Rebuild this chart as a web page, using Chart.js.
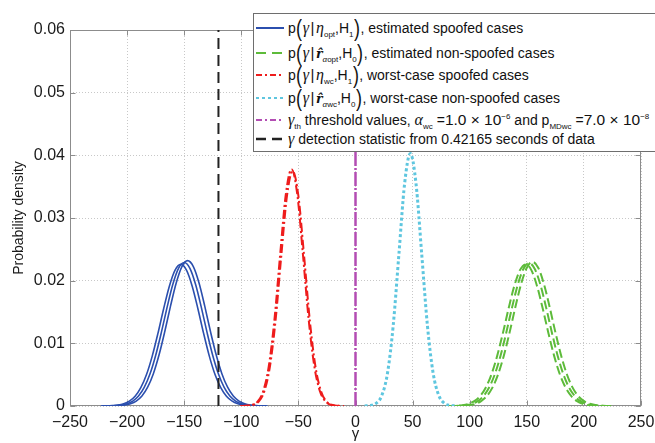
<!DOCTYPE html>
<html><head><meta charset="utf-8">
<script src="https://cdn.jsdelivr.net/npm/chart.js@4.4.0/dist/chart.umd.min.js"></script>
<style>
html,body{margin:0;padding:0;background:#fff;overflow:hidden;}
#wrap{position:relative;width:655px;height:443px;overflow:hidden;}
#c{position:absolute;left:0;top:0;}
#legend{position:absolute;left:253px;top:13px;width:430px;height:137px;border:1px solid #6e6e6e;background:#fff;font-family:"Liberation Sans",Arial,sans-serif;font-size:14px;color:#111;}
.row{position:absolute;left:0;height:22px;display:flex;align-items:center;white-space:nowrap;padding-left:1px;}
.row svg{margin-right:4px;flex:none;}
.bp{font-size:24px;line-height:14px;display:inline-block;transform:scaleX(0.75);vertical-align:-3px;margin:0 -0.5px;font-weight:300;}
.m{font-family:"Liberation Serif","DejaVu Serif",serif;font-style:italic;font-size:16px;}
.rh{font-family:"DejaVu Serif",serif;font-style:italic;font-weight:bold;font-size:12.5px;}
.bar{font-size:15px;margin:0 1.5px;}
sub{font-size:8px;vertical-align:-4px;line-height:0;}
sup{font-size:8px;vertical-align:6px;line-height:0;}
.num{font-size:15.5px;}
</style></head>
<body>
<div id="wrap">
<canvas id="c" width="655" height="443"></canvas>
<div id="legend">
 <div class="row" style="top:3px"><svg width="29" height="6"><line x1="1" y1="3" x2="29" y2="3" stroke="#2b4fae" stroke-width="2"/></svg><span>p<span class="bp">(</span><i class="m">γ</i><span class="bar">|</span><i class="m">η</i><sub>opt</sub>,H<sub>1</sub><span class="bp">)</span>, estimated spoofed cases</span></div>
 <div class="row" style="top:28px"><svg width="29" height="6"><line x1="1" y1="3" x2="29" y2="3" stroke="#5dbb3a" stroke-width="2" stroke-dasharray="10,6"/></svg><span>p<span class="bp">(</span><i class="m">γ</i><span class="bar">|</span><span class="rh">r̂</span><sub><i>α</i>opt</sub>,H<sub>0</sub><span class="bp">)</span>, estimated non-spoofed cases</span></div>
 <div class="row" style="top:50px"><svg width="29" height="6"><line x1="1" y1="3" x2="29" y2="3" stroke="#ee1c1c" stroke-width="2" stroke-dasharray="6,3,2,3"/></svg><span>p<span class="bp">(</span><i class="m">γ</i><span class="bar">|</span><i class="m">η</i><sub>wc</sub>,H<sub>1</sub><span class="bp">)</span>, worst-case spoofed cases</span></div>
 <div class="row" style="top:73px"><svg width="29" height="6"><line x1="1" y1="3" x2="29" y2="3" stroke="#5ec6df" stroke-width="2" stroke-dasharray="3,3"/></svg><span>p<span class="bp">(</span><i class="m">γ</i><span class="bar">|</span><span class="rh">r̂</span><sub><i>α</i>wc</sub>,H<sub>0</sub><span class="bp">)</span>, worst-case non-spoofed cases</span></div>
 <div class="row" style="top:95px"><svg width="29" height="6"><line x1="1" y1="3" x2="29" y2="3" stroke="#b34db3" stroke-width="2" stroke-dasharray="6,3,2,3"/></svg><span><i class="m">γ</i><sub>th</sub> threshold values, <i class="m">α</i><sub>wc</sub> =<span class="num">1.0 × 10</span><sup>−6</sup> and p<sub>MDwc</sub> =<span class="num">7.0 × 10</span><sup>−8</sup></span></div>
 <div class="row" style="top:114px"><svg width="29" height="6"><line x1="1" y1="3" x2="29" y2="3" stroke="#222" stroke-width="2.5" stroke-dasharray="10,6"/></svg><span><i class="m">γ</i> detection statistic from 0.42165 seconds of data</span></div>
</div>
</div>
<script>
// ---- data ----
const xTicks = [-250,-200,-150,-100,-50,0,50,100,150,200,250];
const yTicks = [0,0.01,0.02,0.03,0.04,0.05,0.06];

const blue1X = [-223,-218,-213,-208,-203,-198,-193,-188,-183,-178,-173,-168,-163,-158,-153,-148,-143,-138,-133,-128,-123,-118,-113,-108,-103,-98,-93,-88,-83];
const blue1Y = [.00001,.00002,.00006,.00014,.00035,.00077,.00156,.00292,.00502,.00796,.01158,.01552,.01912,.02168,.02260,.02168,.01912,.01552,.01158,.00796,.00502,.00292,.00156,.00077,.00035,.00014,.00006,.00002,.00001];
const blue2X = [-220,-215,-210,-205,-200,-195,-190,-185,-180,-175,-170,-165,-160,-155,-150,-145,-140,-135,-130,-125,-120,-115,-110,-105,-100,-95,-90,-85,-80];
const blue2Y = [.00001,.00002,.00006,.00015,.00035,.00078,.00158,.00296,.00509,.00806,.01174,.01573,.01938,.02196,.02290,.02196,.01938,.01573,.01174,.00806,.00509,.00296,.00158,.00078,.00035,.00015,.00006,.00002,.00001];
const blue3X = [-217,-212,-207,-202,-197,-192,-187,-182,-177,-172,-167,-162,-157,-152,-147,-142,-137,-132,-127,-122,-117,-112,-107,-102,-97,-92,-87,-82,-77];
const blue3Y = [.00001,.00002,.00006,.00015,.00036,.00079,.00160,.00300,.00516,.00817,.01189,.01593,.01963,.02225,.02320,.02225,.01963,.01593,.01189,.00817,.00516,.00300,.00160,.00079,.00036,.00015,.00006,.00002,.00001];

const green1X = [79,84,89,94,99,104,109,114,119,124,129,134,139,144,149,154,159,164,169,174,179,184,189,194,199,204,209,214,219];
const green1Y = [.00001,.00002,.00006,.00014,.00035,.00077,.00156,.00292,.00502,.00796,.01158,.01552,.01912,.02168,.02260,.02168,.01912,.01552,.01158,.00796,.00502,.00292,.00156,.00077,.00035,.00014,.00006,.00002,.00001];
const green2X = [82,87,92,97,102,107,112,117,122,127,132,137,142,147,152,157,162,167,172,177,182,187,192,197,202,207,212,217,222];
const green2Y = [.00001,.00002,.00006,.00015,.00035,.00077,.00158,.00295,.00507,.00803,.01169,.01566,.01929,.02187,.02280,.02187,.01929,.01566,.01169,.00803,.00507,.00295,.00158,.00077,.00035,.00015,.00006,.00002,.00001];
const green3X = [85,90,95,100,105,110,115,120,125,130,135,140,145,150,155,160,165,170,175,180,185,190,195,200,205,210,215,220,225];
const green3Y = [.00001,.00002,.00006,.00015,.00035,.00078,.00159,.00297,.00511,.00810,.01179,.01579,.01946,.02206,.02300,.02206,.01946,.01579,.01179,.00810,.00511,.00297,.00159,.00078,.00035,.00015,.00006,.00002,.00001];

const red1X = [-101,-96,-91,-86,-81,-76,-71,-66,-61,-56,-51,-46,-41,-36,-31,-26,-21,-16,-11];
const red1Y = [.000004,.00003,.00015,.00066,.00228,.00627,.01376,.02412,.03379,.03780,.03379,.02412,.01376,.00627,.00228,.00066,.00015,.00003,.000004];
const red2X = [-100,-95,-90,-85,-80,-75,-70,-65,-60,-55,-50,-45,-40,-35,-30,-25,-20,-15,-10];
const red2Y = [.000004,.00003,.00015,.00066,.00226,.00622,.01365,.02393,.03352,.03750,.03352,.02393,.01365,.00622,.00226,.00066,.00015,.00003,.000004];

const cyanX = [8,13,18,23,28,33,38,43,48,53,58,63,68,73,78,83,88];
const cyanY = [.00001,.00008,.00041,.00166,.00523,.01279,.02420,.03547,.04030,.03547,.02420,.01279,.00523,.00166,.00041,.00008,.00001];

const thresholdX = [0,0];
const thresholdY = [0,0.06];
const detectionX = [-120,-120];
const detectionY = [0,0.06];

// ---- build chart ----
const pts = (xs, ys) => xs.map((x,i)=>({x:x, y:ys[i]}));
const FONT = '"Liberation Sans", Arial, sans-serif';

const frame = {
  id:'frame',
  beforeDatasetsDraw(chart){
    const {ctx, chartArea:a, scales:{x,y}} = chart;
    ctx.save();
    ctx.strokeStyle = '#8c8c8c';
    ctx.lineWidth = 1;
    const L = Math.round(a.left)+0.5, R = Math.round(a.right)-0.5, T = Math.round(a.top)+0.5, B = Math.round(a.bottom)-0.5;
    ctx.strokeRect(L, T, R-L, B-T);
    ctx.beginPath();
    x.ticks.forEach(t=>{ const p = Math.round(x.getPixelForValue(t.value))+0.5; ctx.moveTo(p,B); ctx.lineTo(p,B-5); ctx.moveTo(p,T); ctx.lineTo(p,T+5); });
    y.ticks.forEach(t=>{ const p = Math.round(y.getPixelForValue(t.value))+0.5; ctx.moveTo(L,p); ctx.lineTo(L+5,p); ctx.moveTo(R,p); ctx.lineTo(R-5,p); });
    ctx.stroke();
    ctx.restore();
  }
};

const straight = {tension:0, cubicInterpolationMode:'default'};

new Chart(document.getElementById('c'), {
  type:'line',
  data:{ datasets:[
    Object.assign({data:pts(detectionX,detectionY), borderColor:'#222', borderWidth:2, borderDash:[11,6]}, straight),
    Object.assign({data:pts(thresholdX,thresholdY), borderColor:'#b34db3', borderWidth:2.5, borderDash:[14,2,2,2]}, straight),
    {data:pts(cyanX,cyanY), borderColor:'#5ec6df', borderWidth:3, borderDash:[3,2.5]},
    {data:pts(red1X,red1Y), borderColor:'#ee1c1c', borderWidth:2, borderDash:[9,3,2,3]},
    {data:pts(red2X,red2Y), borderColor:'#ee1c1c', borderWidth:2, borderDash:[9,3,2,3]},
    {data:pts(green1X,green1Y), borderColor:'#5dbb3a', borderWidth:2, borderDash:[9,4]},
    {data:pts(green2X,green2Y), borderColor:'#5dbb3a', borderWidth:2, borderDash:[9,4]},
    {data:pts(green3X,green3Y), borderColor:'#5dbb3a', borderWidth:2, borderDash:[9,4]},
    {data:pts(blue1X,blue1Y), borderColor:'#2b4fae', borderWidth:1.6},
    {data:pts(blue2X,blue2Y), borderColor:'#2b4fae', borderWidth:1.6},
    {data:pts(blue3X,blue3Y), borderColor:'#2b4fae', borderWidth:1.6}
  ]},
  options:{
    responsive:false, animation:false, devicePixelRatio:1,
    layout:{padding:{top:30,right:14,left:0,bottom:0}},
    plugins:{legend:{display:false}, tooltip:{enabled:false}},
    elements:{point:{radius:0}, line:{cubicInterpolationMode:'monotone', fill:false}},
    scales:{
      x:{type:'linear', min:xTicks[0], max:xTicks[xTicks.length-1],
         afterBuildTicks(s){ s.ticks = xTicks.map(v=>({value:v})); },
         ticks:{padding:7, autoSkip:false, maxRotation:0, color:'#1a1a1a', font:{family:FONT,size:16},
                callback:v=>String(v).replace('-','\u2212')},
         grid:{color:'#c8c8c8', drawTicks:false, lineWidth:1},
         border:{display:false, dash:[1,2]},
         title:{display:true, text:'γ', color:'#1a1a1a', font:{family:FONT,size:15}, padding:{top:0,bottom:0}},
         afterFit(s){ s.height = 37; s.paddingLeft = 0; s.paddingRight = 0; }
      },
      y:{type:'linear', min:yTicks[0], max:yTicks[yTicks.length-1],
         afterBuildTicks(s){ s.ticks = yTicks.map(v=>({value:v})); },
         ticks:{padding:5, color:'#1a1a1a', font:{family:FONT,size:16},
                callback:v=> v===0 ? '0' : v.toFixed(2)},
         grid:{color:'#c8c8c8', drawTicks:false, lineWidth:1},
         border:{display:false, dash:[1,2]},
         title:{display:true, text:'Probability density', color:'#1a1a1a', font:{family:FONT,size:14}, padding:{top:11,bottom:0}},
         afterFit(s){ s.width = 70; s.paddingTop = 0; s.paddingBottom = 0; }
      }
    }
  },
  plugins:[frame]
});
</script>
</body></html>
